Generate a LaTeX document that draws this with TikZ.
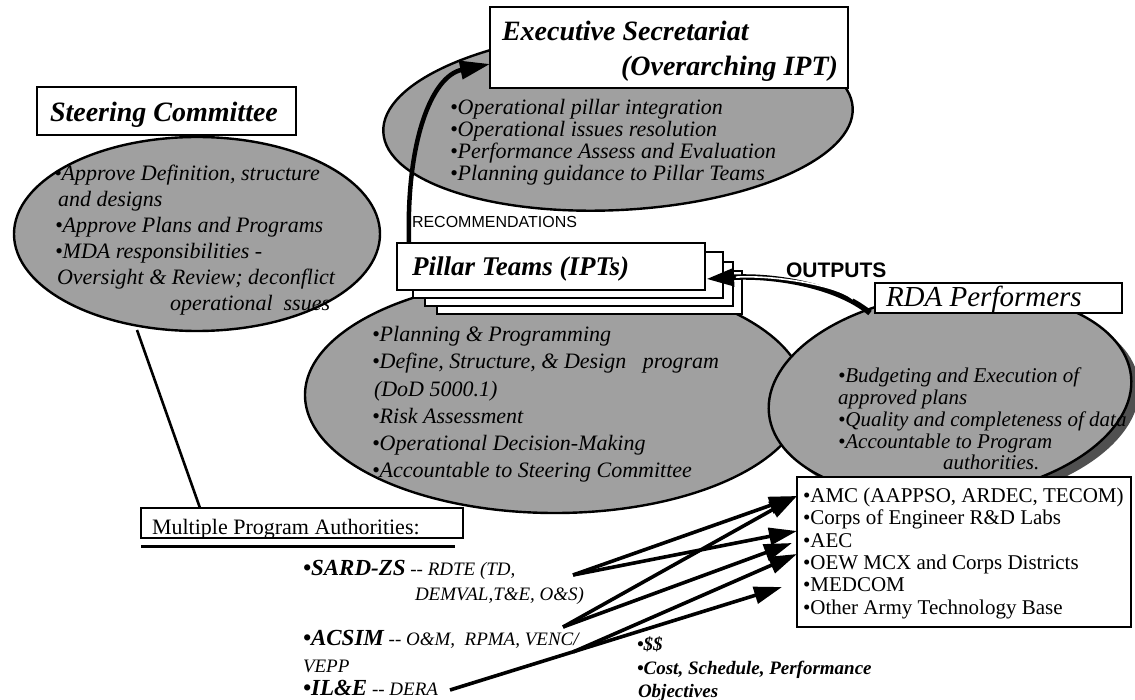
\documentclass[tikz,border=0pt]{standalone}
\usepackage{fontspec}
\setmainfont{Liberation Serif}
\newfontfamily\hvfont{Liberation Sans}
\usetikzlibrary{shapes.geometric,arrows.meta}
\definecolor{dither}{RGB}{160,160,160}
\definecolor{shadowc}{RGB}{80,80,80}
\newcommand{\fsz}[1]{\fontsize{#1}{#1}\selectfont}
\begin{document}
\begin{tikzpicture}[x=1pt,y=-1pt,
 blob/.style={ellipse, draw=black, line width=2.4pt, fill=dither, inner sep=0pt},
 shadowblob/.style={ellipse, fill=shadowc, inner sep=0pt},
 tbox/.style={draw=black, line width=2.6pt, fill=white, inner sep=0pt},
 txt/.style={anchor=base west, inner sep=0pt, outer sep=0pt},
 txtr/.style={anchor=base east, inner sep=0pt, outer sep=0pt},
 title/.style={font=\bfseries\itshape\fsz{28}},
 bul/.style={txt, font=\itshape\fsz{22}},
 rbul/.style={txt, font=\itshape\fsz{21}},
 lst/.style={txt, font=\fsz{21}},
 thickarrow/.style={line width=3.6pt, -{Triangle[length=28pt,width=17pt]}},
]
\useasboundingbox (0,0) rectangle (1135,700);

% ---------- Steering Committee ----------
\node[blob, minimum width=366pt, minimum height=194pt] (steer) at (197,234) {};
\node[tbox, minimum width=259pt, minimum height=48pt] (steerbox) at (166.5,111) {};
\node[txt, title] (steert) at (50,122) {Steering Committee};
\node[bul] (s1) at (54,181) {•Approve Definition, structure};
\node[bul] (s2) at (58,207) {and designs};
\node[bul] (s3) at (55,233) {•Approve Plans and Programs};
\node[bul] (s4) at (55,259) {•MDA responsibilities -};
\node[bul] (s5) at (57,285) {Oversight \& Review; deconflict};
\node[bul] (s6) at (170,311) {operational\ \ ssues};

% ---------- Executive Secretariat ----------
\node[blob, minimum width=470pt, minimum height=180pt, rotate=3] (exec) at (618,120) {};
\node[tbox, minimum width=358pt, minimum height=81pt] (exbox) at (669,47.5) {};
\node[txt, title] (ext1) at (502,41) {Executive Secretariat};
\node[txtr, title] (ext2) at (838,76) {(Overarching IPT)};
\node[bul] (e1) at (450,115) {•Operational pillar integration};
\node[bul] (e2) at (450,137) {•Operational issues resolution};
\node[bul] (e3) at (450,159) {•Performance Assess and Evaluation};
\node[bul] (e4) at (450,181) {•Planning guidance to Pillar Teams};

% ---------- Pillar Teams ellipse and RDA ellipse ----------
\node[blob, minimum width=500pt, minimum height=236pt] (pill) at (555,395) {};
\node[shadowblob, minimum width=364pt, minimum height=204pt, rotate=6] (rdash) at (958,402) {};
\node[blob, minimum width=364pt, minimum height=204pt, rotate=6] (rda) at (950,395) {};

% stacked Pillar boxes
\node[tbox, line width=2.4pt, minimum width=305pt, minimum height=43pt] (pb4) at (589.5,292.5) {};
\node[tbox, line width=2.4pt, minimum width=308pt, minimum height=44pt] (pb3) at (579,284) {};
\node[tbox, line width=2.4pt, minimum width=310pt, minimum height=46pt] (pb2) at (568,275) {};
\node[tbox, line width=2.4pt, minimum width=308pt, minimum height=47pt] (pb1) at (551,266.5) {};
\node[txt, font=\bfseries\itshape\fsz{27}] (pbt) at (412,276) {Pillar Teams (IPTs)};

\node[bul] (p1) at (372,342) {•Planning \& Programming};
\node[bul] (p2) at (372,369) {•Define, Structure, \& Design\ \ \ program};
\node[bul] (p3) at (374,396) {(DoD 5000.1)};
\node[bul] (p4) at (372,423) {•Risk Assessment};
\node[bul] (p5) at (372,450) {•Operational Decision-Making};
\node[bul] (p6) at (372,477) {•Accountable to Steering Committee};

% RDA box and texts
\node[tbox, minimum width=247pt, minimum height=30pt] (rdabox) at (998.5,298) {};
\node[txt, font=\itshape\fsz{29}] (rdat) at (886,307) {RDA Performers};
\node[rbul] (r1) at (838,382) {•Budgeting and Execution of};
\node[rbul] (r2) at (838,404) {approved plans};
\node[rbul] (r3) at (838,426) {•Quality and completeness of data};
\node[rbul] (r4) at (838,448) {•Accountable to Program};
\node[rbul] (r5) at (943,469) {authorities.};

% ---------- Recommendations arrow ----------
\coordinate (recS) at (409,243);
\coordinate (recE) at (490,64);
\draw[line width=4.5pt, -{Triangle[length=30pt,width=18pt]}] (recS) .. controls (406,140) and (432,76) .. (recE);
\node[txt, font=\hvfont\fsz{16}] (rect) at (412,228) {RECOMMENDATIONS};

% ---------- Outputs arrow ----------
\coordinate (outS) at (870,313);
\coordinate (outE) at (706,279);
\draw[line width=5.5pt, -{Triangle[length=28pt,width=17pt]}] (outS) .. controls (835,284) and (770,275) .. (outE);
\draw[white, line width=1.6pt, shorten >=30pt, shorten <=22pt] (outS) .. controls (835,284) and (770,275) .. (outE);
\node[txt, font=\hvfont\bfseries\fsz{21}] (outt) at (786,278) {OUTPUTS};

% ---------- Performers list box ----------
\node[tbox, minimum width=334pt, minimum height=150pt] (perf) at (964,552) {};
\node[lst] (l1) at (803,502) {•AMC (AAPPSO, ARDEC, TECOM)};
\node[lst] (l2) at (803,524) {•Corps of Engineer R\&D Labs};
\node[lst] (l3) at (803,547) {•AEC};
\node[lst] (l4) at (803,569) {•OEW MCX and Corps Districts};
\node[lst] (l5) at (803,591) {•MEDCOM};
\node[lst] (l6) at (803,614) {•Other Army Technology Base};

% ---------- Multiple Program Authorities ----------
\node[tbox, minimum width=322pt, minimum height=30pt] (mpa) at (302,523) {};
\node[txt, font=\fsz{22}] (mpat) at (152,534) {Multiple Program Authorities:};
\coordinate (ulA) at (141,546);
\coordinate (ulB) at (455,546);
\draw[line width=3pt] (ulA) -- (ulB);
\coordinate (stA) at (137,330);
\coordinate (stB) at (200,508);
\draw[line width=2.6pt] (stA) -- (stB);

\node[txt] (a1) at (303,575) {{\bfseries\itshape\fsz{23}•SARD-ZS}{\itshape\fsz{19} -{}- RDTE (TD,}};
\node[txt, font=\itshape\fsz{19}] (a2) at (415,600) {DEMVAL,T\&E, O\&S)};
\node[txt] (a3) at (303,645) {{\bfseries\itshape\fsz{23}•ACSIM}{\itshape\fsz{19} -{}- O\&M,\ \ RPMA, VENC/}};
\node[txt, font=\itshape\fsz{19}] (a4) at (303,672) {VEPP};
\node[txt] (a5) at (303,695) {{\bfseries\itshape\fsz{23}•IL\&E}{\itshape\fsz{19} -{}- DERA}};

\node[txt, font=\bfseries\itshape\fsz{19}] (d1) at (637,650) {•\$\$};
\node[txt, font=\bfseries\itshape\fsz{19}] (d2) at (637,674) {•Cost, Schedule, Performance};
\node[txt, font=\bfseries\itshape\fsz{19}] (d3) at (638,697) {Objectives};

% ---------- funding arrows ----------
\coordinate (oSard) at (573,575);
\coordinate (oAcsim) at (563,627);
\coordinate (oJunc) at (573,652);
\coordinate (oIle) at (450,690);
\coordinate (tAmc) at (797,496);
\coordinate (tCorps) at (797,531);
\coordinate (tAec) at (792,543);
\coordinate (tOew) at (797,554);
\coordinate (tMed) at (782,587);
\draw[thickarrow] (oSard) -- (tAmc);
\draw[thickarrow] (oSard) -- (tCorps);
\draw[thickarrow] (oAcsim) -- (tAmc);
\draw[thickarrow] (oAcsim) -- (tAec);
\draw[thickarrow] (oJunc) -- (tOew);
\draw[thickarrow] (oIle) -- (tMed);
\end{tikzpicture}
\end{document}
